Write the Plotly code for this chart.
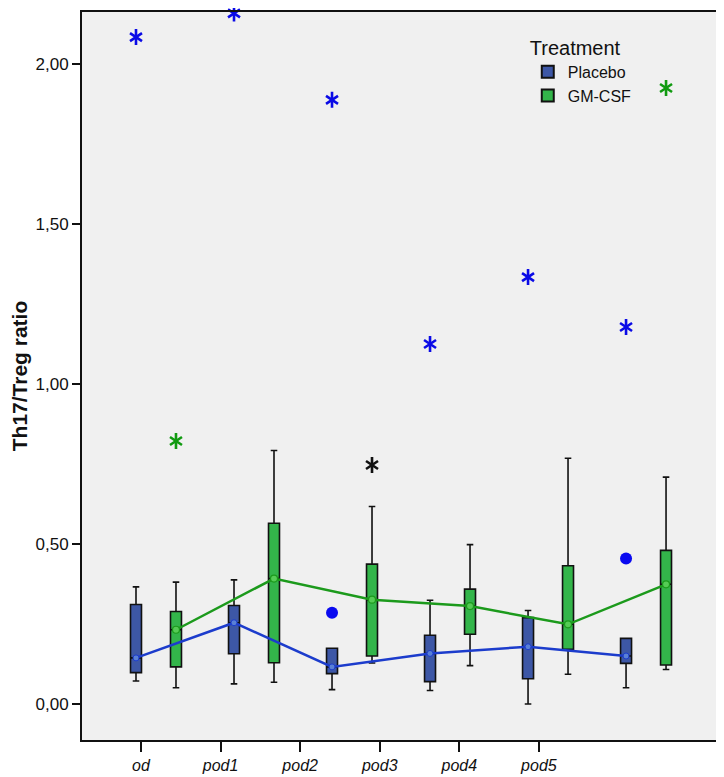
import plotly.graph_objects as go

# ---- data ----
categories = ["od", "pod1", "pod2", "pod3", "pod4", "pod5"]

placebo_q1 = [0.098, 0.157, 0.095, 0.070, 0.079, 0.127]
placebo_median = [0.144, 0.254, 0.116, 0.158, 0.179, 0.150]
placebo_q3 = [0.311, 0.308, 0.174, 0.215, 0.270, 0.205]
placebo_low = [0.072, 0.063, 0.045, 0.042, 0.000, 0.051]
placebo_high = [0.366, 0.388, 0.174, 0.324, 0.292, 0.205]

gmcsf_q1 = [0.116, 0.129, 0.150, 0.218, 0.171, 0.122]
gmcsf_median = [0.232, 0.392, 0.326, 0.306, 0.249, 0.374]
gmcsf_q3 = [0.289, 0.565, 0.437, 0.359, 0.432, 0.480]
gmcsf_low = [0.051, 0.068, 0.128, 0.120, 0.093, 0.108]
gmcsf_high = [0.381, 0.792, 0.617, 0.498, 0.768, 0.709]

# extreme values (asterisks) and outliers (circles): (category index, value)
placebo_extremes = [(0, 2.084), (1, 2.158), (2, 1.888), (3, 1.125), (4, 1.334), (5, 1.178)]
placebo_outliers = [(2, 0.285), (5, 0.455)]
gmcsf_extremes = [(0, 0.822), (5, 1.925)]
gmcsf_black_extremes = [(2, 0.747)]

# ---- styling / positions ----
BLUE_FILL = "#3d57a6"
GREEN_FILL = "#33b54a"
BLUE_LINE = "#1c3ccc"
GREEN_LINE = "#1c9a1c"
STAR_BLUE = "#0a0ae6"
STAR_GREEN = "#109a10"
OFF = 0.204
BOXW = 0.112

px_ = [i - OFF for i in range(len(categories))]
gx_ = [i + OFF for i in range(len(categories))]
tick_pos = [i * 0.812 - 0.153 for i in range(len(categories))]

fig = go.Figure()

fig.add_trace(go.Box(
    x=px_, q1=placebo_q1, median=placebo_median, q3=placebo_q3,
    lowerfence=placebo_low, upperfence=placebo_high,
    width=BOXW, whiskerwidth=0.6, fillcolor=BLUE_FILL,
    line=dict(color="#111111", width=1.6), boxpoints=False,
    showlegend=False, hoverinfo="skip"))
fig.add_trace(go.Box(
    x=gx_, q1=gmcsf_q1, median=gmcsf_median, q3=gmcsf_q3,
    lowerfence=gmcsf_low, upperfence=gmcsf_high,
    width=BOXW, whiskerwidth=0.6, fillcolor=GREEN_FILL,
    line=dict(color="#111111", width=1.6), boxpoints=False,
    showlegend=False, hoverinfo="skip"))

# median connecting lines
fig.add_trace(go.Scatter(
    x=px_, y=placebo_median, mode="lines+markers",
    line=dict(color=BLUE_LINE, width=2.5),
    marker=dict(symbol="circle", size=6, color="#5a80d6", line=dict(color=BLUE_LINE, width=1)),
    showlegend=False, hoverinfo="skip", cliponaxis=False))
fig.add_trace(go.Scatter(
    x=gx_, y=gmcsf_median, mode="lines+markers",
    line=dict(color=GREEN_LINE, width=2.5),
    marker=dict(symbol="circle", size=7, color="#55cc55", line=dict(color=GREEN_LINE, width=1.2)),
    showlegend=False, hoverinfo="skip", cliponaxis=False))


def add_stars(points, pos, color):
    xs = [pos[i] for i, _ in points]
    ys = [v for _, v in points]
    for sym in ("y-up-open", "y-down-open"):
        fig.add_trace(go.Scatter(
            x=xs, y=ys, mode="markers",
            marker=dict(symbol=sym, size=10, color=color, line=dict(color=color, width=2.6)),
            showlegend=False, hoverinfo="skip", cliponaxis=False))


add_stars(placebo_extremes, px_, STAR_BLUE)
add_stars(gmcsf_extremes, gx_, STAR_GREEN)
add_stars(gmcsf_black_extremes, gx_, "#111111")

fig.add_trace(go.Scatter(
    x=[px_[i] for i, _ in placebo_outliers], y=[v for _, v in placebo_outliers],
    mode="markers", marker=dict(symbol="circle", size=12, color="#0a0af0"),
    showlegend=False, hoverinfo="skip", cliponaxis=False))

# legend entries
fig.add_trace(go.Scatter(
    x=[None], y=[None], mode="markers", name="Placebo",
    marker=dict(symbol="square", size=12, color=BLUE_FILL, line=dict(color="#111111", width=1.5))))
fig.add_trace(go.Scatter(
    x=[None], y=[None], mode="markers", name="GM-CSF",
    marker=dict(symbol="square", size=12, color=GREEN_FILL, line=dict(color="#111111", width=1.5))))

# page body has an 8px default margin, so the figure is sized/shifted to compensate
fig.update_layout(
    width=716, height=769,
    margin=dict(l=74, r=7, t=4, b=37),
    paper_bgcolor="white", plot_bgcolor="#f0f0f0",
    separators=",.",
    font=dict(family="Arial, Liberation Sans, sans-serif", color="#111111", size=15),
    legend=dict(
        title=dict(text="Treatment", font=dict(size=20)),
        x=0.702, y=0.977, xanchor="left", yanchor="top",
        bgcolor="rgba(0,0,0,0)", font=dict(size=16),
        itemsizing="constant", tracegroupgap=0, itemwidth=30),
    xaxis=dict(
        range=[-0.755, 5.724], tickvals=tick_pos, ticktext=categories,
        tickfont=dict(size=16, style="italic"), automargin=False,
        showgrid=False, zeroline=False,
        showline=True, linecolor="#111111", linewidth=2, mirror=True,
        ticks="outside", ticklen=10, tickwidth=2, tickcolor="#111111"),
    yaxis=dict(
        range=[-0.1125, 2.1625], tickvals=[0, 0.5, 1.0, 1.5, 2.0], tickformat=".2f",
        tickfont=dict(size=17), automargin=False,
        title=dict(text="<b>Th17/Treg ratio</b>", font=dict(size=21), standoff=10),
        showgrid=False, zeroline=False,
        showline=True, linecolor="#111111", linewidth=2, mirror=True,
        ticks="outside", ticklen=8, tickwidth=2, tickcolor="#111111"),
)

fig.write_html("out.html")
